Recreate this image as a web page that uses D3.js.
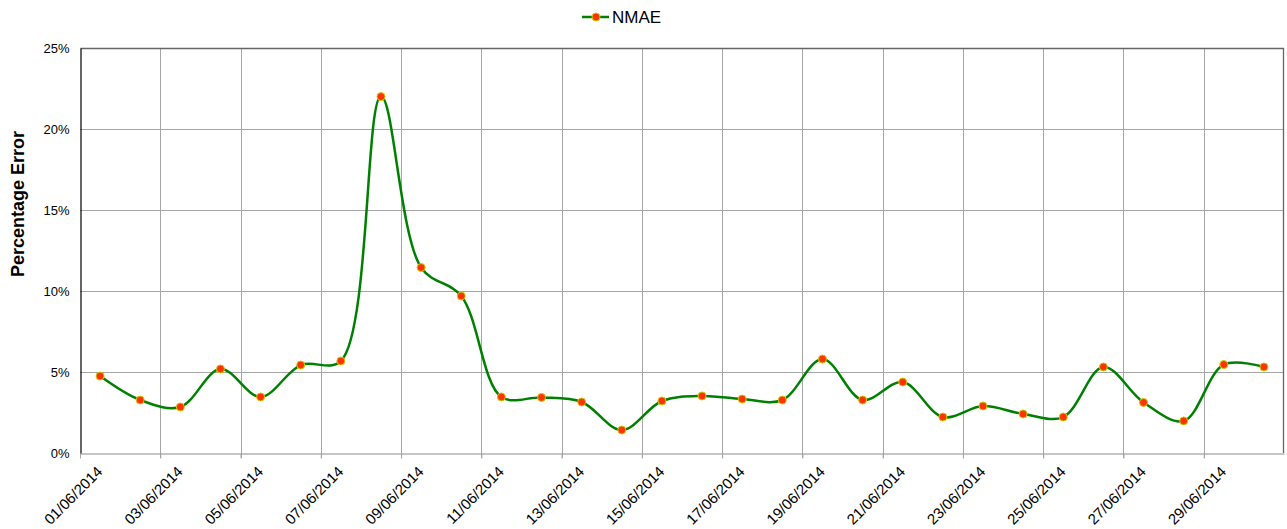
<!DOCTYPE html>
<html>
<head>
<meta charset="utf-8">
<script src="https://cdn.jsdelivr.net/npm/d3@7"></script>
<style>
  body { margin: 0; background: #fff; }
  text { font-family: "Liberation Sans", Arial, sans-serif; }
</style>
</head>
<body>
<svg id="chart" width="1287" height="529"></svg>
<script>
// daily NMAE for June 2014 (percent), one point per day at midday
const days = d3.range(1, 31).map(d => `2014-06-${String(d).padStart(2, '0')}`);
const nmae = [4.75, 3.27, 2.84, 5.19, 3.46, 5.43, 5.68, 22.0, 11.45, 9.69,
              3.46, 3.43, 3.15, 1.42, 3.21, 3.52, 3.33, 3.27, 5.80, 3.27,
              4.38, 2.22, 2.90, 2.41, 2.22, 5.31, 3.12, 1.98, 5.46, 5.31];
const yTicks = [0, 5, 10, 15, 20, 25];
const seriesName = 'NMAE';

const parse = d3.timeParse('%Y-%m-%d');
const fmt = d3.timeFormat('%d/%m/%Y');
const data = days.map((d, i) => ({date: d3.timeHour.offset(parse(d), 12), value: nmae[i]}));

const margin = {top: 48, right: 3, bottom: 76, left: 80};
const W = 1287, H = 529;
const width = W - margin.left - margin.right;
const height = H - margin.top - margin.bottom;

const svg = d3.select('#chart');
const chart = svg.append('g').attr('transform', `translate(${margin.left},${margin.top})`);

const xScale = d3.scaleTime()
  .domain([parse('2014-06-01'), parse('2014-07-01')])
  .range([0, width]);
const yScale = d3.scaleLinear().domain([0, 25]).range([height, 0]);

const xTicks = d3.range(0, 30, 2).map(i => d3.timeDay.offset(parse('2014-06-01'), i));

// grid
chart.append('g').selectAll('line.h')
  .data(yTicks.slice(1, -1))
  .join('line')
  .attr('x1', 0).attr('x2', width)
  .attr('y1', d => Math.round(yScale(d)) + 0.5).attr('y2', d => Math.round(yScale(d)) + 0.5)
  .attr('stroke', '#a6a6a6').attr('stroke-width', 1);

chart.append('g').selectAll('line.v')
  .data(xTicks.slice(1))
  .join('line')
  .attr('x1', d => Math.round(xScale(d)) + 0.5).attr('x2', d => Math.round(xScale(d)) + 0.5)
  .attr('y1', 0).attr('y2', height + 5)
  .attr('stroke', '#a6a6a6').attr('stroke-width', 1);

// plot border
chart.append('path')
  .attr('d', `M0.5,0.5H${width - 0.5}V${height}`)
  .attr('fill', 'none').attr('stroke', '#666').attr('stroke-width', 1.3);

// x axis
const xAxis = d3.axisBottom(xScale).tickValues(xTicks).tickFormat(fmt).tickSize(5).tickSizeOuter(0);
const xg = chart.append('g')
  .attr('transform', `translate(0,${height + 0.5})`)
  .call(xAxis);
xg.select('.domain').attr('stroke', '#8c8c8c');
xg.selectAll('.tick line').attr('stroke', '#a6a6a6');
xg.selectAll('.tick text')
  .attr('font-size', 15).attr('fill', '#000')
  .attr('text-anchor', 'end')
  .attr('x', 0).attr('y', 0).attr('dy', 0)
  .attr('transform', 'translate(23,19) rotate(-45)');

// y axis
const yAxis = d3.axisLeft(yScale).tickValues(yTicks).tickFormat(d => d + '%').tickSize(0).tickPadding(11);
const yg = chart.append('g').attr('transform', 'translate(0.5,0)').call(yAxis);
yg.select('.domain').attr('stroke', '#000').attr('stroke-width', 1.2);
yg.selectAll('.tick text').attr('font-size', 13).attr('fill', '#000');

svg.append('text')
  .attr('transform', 'translate(24,204) rotate(-90)')
  .attr('text-anchor', 'middle')
  .attr('font-size', 18).attr('font-weight', 'bold')
  .text('Percentage Error');

// line
const line = d3.line()
  .x(d => xScale(d.date))
  .y(d => yScale(d.value))
  .curve(d3.curveCatmullRom.alpha(0.5));

chart.append('path')
  .datum(data)
  .attr('d', line)
  .attr('fill', 'none')
  .attr('stroke', '#008000')
  .attr('stroke-width', 2.5);

chart.selectAll('circle')
  .data(data)
  .join('circle')
  .attr('cx', d => xScale(d.date))
  .attr('cy', d => yScale(d.value))
  .attr('r', 4)
  .attr('fill', '#ff3300')
  .attr('stroke', '#cccc00')
  .attr('stroke-width', 1);

// legend
const lg = svg.append('g').attr('transform', 'translate(582,17)');
lg.append('line').attr('x1', 0).attr('x2', 27).attr('y1', 0).attr('y2', 0)
  .attr('stroke', '#008000').attr('stroke-width', 2.5);
lg.append('circle').attr('cx', 14).attr('cy', 0).attr('r', 4)
  .attr('fill', '#ff3300').attr('stroke', '#cccc00').attr('stroke-width', 1);
lg.append('text').attr('x', 30).attr('y', 6)
  .attr('font-size', 17).attr('fill', '#000')
  .text(seriesName);
</script>
</body>
</html>
